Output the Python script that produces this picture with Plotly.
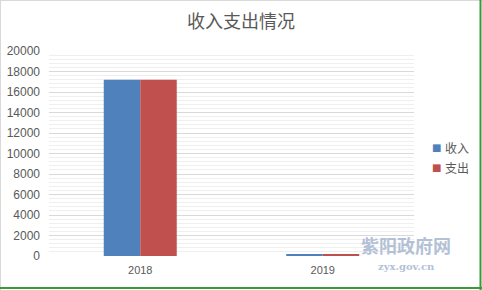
import plotly.graph_objects as go

categories = ["2018", "2019"]
income = [17200, 120]
expense = [17200, 110]
series_names = ["收入", "支出"]
series_colors = ["#4f81bd", "#c0504d"]
title_text = "收入支出情况"
y_ticks = list(range(0, 20001, 2000))
y_tick_labels = [str(v) for v in y_ticks]

W, H = 482, 290
ml, mr, mt, mb = 49, 68, 51, 34
PW, PH = W - ml - mr, H - mt - mb


def px_x(p):
    return (p - ml) / PW


def px_y(p):
    return (H - mb - p) / PH


fig = go.Figure()
for name, vals, col in zip(series_names, [income, expense], series_colors):
    fig.add_trace(go.Bar(x=categories, y=vals, name=name, showlegend=False,
                         marker=dict(color=col, line=dict(width=0))))

fig.update_layout(
    width=W, height=H,
    margin=dict(l=ml, r=mr, t=mt, b=mb, autoexpand=False),
    paper_bgcolor="white", plot_bgcolor="white",
    barmode="group", bargap=0.6, bargroupgap=0,
    font=dict(family="Liberation Sans, Noto Sans CJK SC", size=11, color="#595959"),
    title=dict(text=title_text, x=0.5, xanchor="center", y=1 - 22 / H, yanchor="middle",
               font=dict(family="Noto Sans CJK SC", size=18, color="#595959")),
    showlegend=False,
)
fig.update_xaxes(showgrid=False, showline=False, ticks="", ticklabelstandoff=6,
                 tickfont=dict(size=11, color="#595959"))
fig.update_yaxes(range=[0, 20000], tickvals=y_ticks, ticktext=y_tick_labels,
                 showgrid=True, gridcolor="#d9d9d9", gridwidth=1,
                 zeroline=False, showline=False, ticks="", ticklabelstandoff=8,
                 tickfont=dict(size=12, color="#595959"),
                 minor=dict(dtick=400, showgrid=True, gridcolor="#efefef", gridwidth=1))

# legend (drawn as annotations)
legend_y = [147, 167]
for name, col, yy in zip(series_names, series_colors, legend_y):
    fig.add_annotation(text="■", xref="paper", yref="paper", x=px_x(436.5), y=px_y(yy),
                       xanchor="center", yanchor="middle", showarrow=False,
                       font=dict(family="DejaVu Sans", size=10, color=col))
    fig.add_annotation(text=name, xref="paper", yref="paper", x=px_x(443), y=px_y(yy),
                       xanchor="left", yanchor="middle", showarrow=False,
                       font=dict(family="Noto Sans CJK SC", size=12, color="#595959"))

# watermark
fig.add_annotation(text="<b>紫阳政府网</b>", xref="paper", yref="paper",
                   x=px_x(406), y=px_y(245), xanchor="center", yanchor="middle",
                   showarrow=False, borderpad=0,
                   font=dict(family="Noto Sans CJK SC", size=18, color="#b3c1d6"))
fig.add_annotation(text="<b>zyx.gov.cn</b>", xref="paper", yref="paper",
                   x=px_x(406), y=px_y(266), xanchor="center", yanchor="middle",
                   showarrow=False, borderpad=0,
                   font=dict(family="DejaVu Serif", size=10, color="#b3c1d6"))

# frame
fig.add_shape(type="line", xref="paper", yref="paper",
              x0=px_x(0.5), x1=px_x(0.5), y0=px_y(0), y1=px_y(H),
              line=dict(color="#d9d9d9", width=1))
fig.add_shape(type="line", xref="paper", yref="paper",
              x0=px_x(0), x1=px_x(W), y0=px_y(0.5), y1=px_y(0.5),
              line=dict(color="#d9d9d9", width=1))
fig.add_shape(type="line", xref="paper", yref="paper",
              x0=px_x(480.5), x1=px_x(480.5), y0=px_y(0), y1=px_y(H),
              line=dict(color="#3a9a3a", width=2))
fig.add_shape(type="line", xref="paper", yref="paper",
              x0=px_x(0), x1=px_x(W), y0=px_y(288), y1=px_y(288),
              line=dict(color="#3a9a3a", width=2))

fig.write_html("out.html")
